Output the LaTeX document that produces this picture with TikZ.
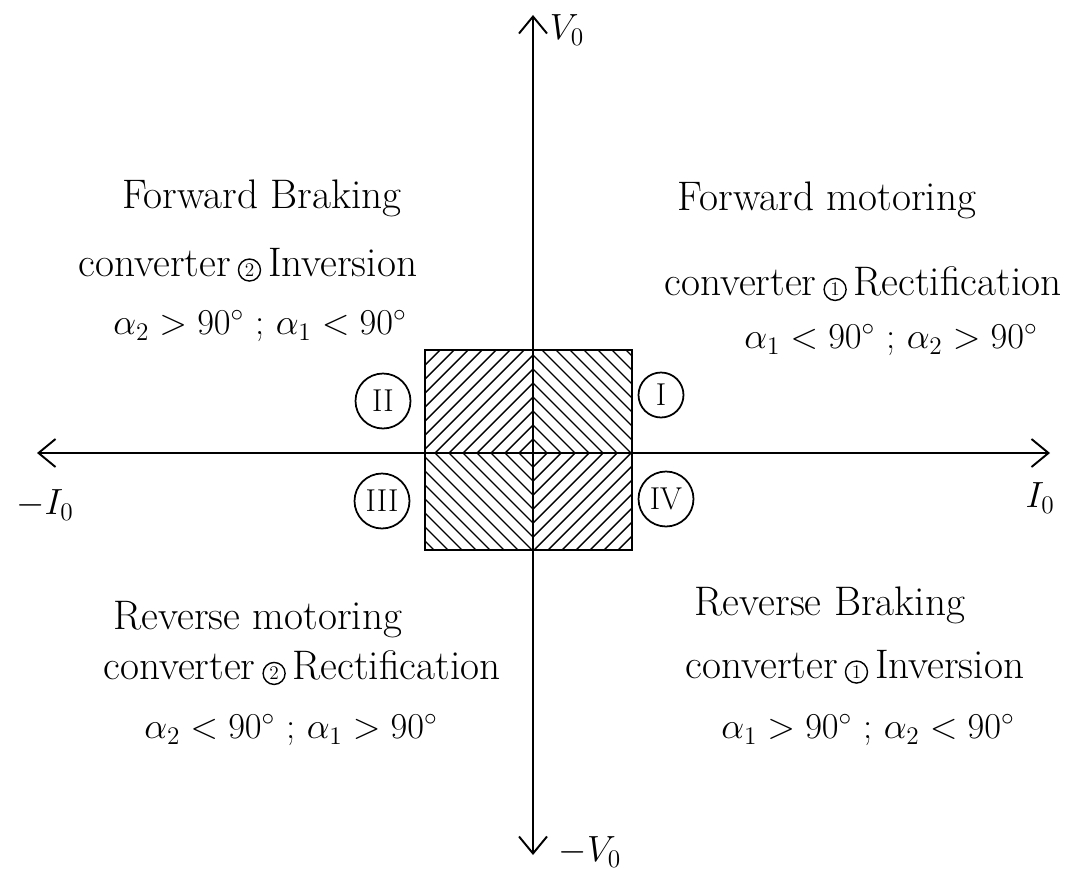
\documentclass[tikz,border=0pt]{standalone}
\usepackage{fontspec}
\usetikzlibrary{arrows.meta,calc}
\tikzset{
  axis/.style={line width=1.1pt, {Straight Barb[length=3.4mm,width=5.6mm]}-{Straight Barb[length=3.4mm,width=5.6mm]}},
  hatch/.style={line width=0.8pt},
  quad/.style={draw, circle, line width=1pt, inner sep=0pt, font=\fontsize{18}{20}\selectfont},
  note/.style={font=\fontsize{23.5}{26}\selectfont, inner sep=0pt},
  angles/.style={font=\fontsize{21}{24}\selectfont, inner sep=0pt},
  axlabel/.style={font=\fontsize{22}{24}\selectfont, inner sep=0pt},
}
\newcommand{\conv}[1]{\,\tikz[baseline=(cn.base)]\node[draw, circle, line width=0.8pt, inner sep=1pt, minimum size=4.4mm, font=\fontsize{11}{12}\selectfont] (cn) {#1};\,}

\begin{document}
\begin{tikzpicture}[x=0.02cm, y=-0.02cm]
  \useasboundingbox (0,0) rectangle (1071,875);
  % axes
  \coordinate (xl) at (37,453);
  \coordinate (xr) at (1050,453);
  \coordinate (yt) at (533,15);
  \coordinate (yb) at (533,855);
  \coordinate (o) at (533,453);
  % shaded square, hatched as nested diamonds
  \begin{scope}
    \clip (425,350) rectangle (632,550);
    \foreach \r in {14,28,...,210}
      \draw[hatch] ($(o)+(\r,0)$) -- ($(o)+(0,\r)$) -- ($(o)+(-\r,0)$) -- ($(o)+(0,-\r)$) -- cycle;
  \end{scope}
  \draw[line width=1.1pt] (425,350) rectangle (632,550);
  \draw[axis] (xl) -- (xr);
  \draw[axis] (yb) -- (yt);
  \node[axlabel] (vp) at (567,30) {$V_0$};
  \node[axlabel] (vn) at (590,852) {$-V_0$};
  \node[axlabel] (ip) at (1040,498) {$I_0$};
  \node[axlabel] (in) at (45,505) {$-I_0$};
  % quadrant numbers
  \node[quad, minimum size=11mm] (q2) at (383,401) {II};
  \node[quad, minimum size=9mm] (q1) at (661,395) {I};
  \node[quad, minimum size=11mm] (q3) at (382,501) {III};
  \node[quad, minimum size=11mm] (q4) at (666,499) {IV};
  % quadrant II
  \node[note] (fb) at (262,198) {Forward Braking};
  \node[note] (fbc) at (248,265) {converter\conv{2}Inversion};
  \node[angles] (fba) at (260,326) {$\alpha_2>90^\circ$ ; $\alpha_1<90^\circ$};
  % quadrant I
  \node[note] (fm) at (827,200) {Forward motoring};
  \node[note] (fmc) at (863,284) {converter\conv{1}Rectification};
  \node[angles] (fma) at (891,340) {$\alpha_1<90^\circ$ ; $\alpha_2>90^\circ$};
  % quadrant III
  \node[note] (rm) at (258,620) {Reverse motoring};
  \node[note] (rmc) at (302,668) {converter\conv{2}Rectification};
  \node[angles] (rma) at (291,730) {$\alpha_2<90^\circ$ ; $\alpha_1>90^\circ$};
  % quadrant IV
  \node[note] (rb) at (830,605) {Reverse Braking};
  \node[note] (rbc) at (855,667) {converter\conv{1}Inversion};
  \node[angles] (rba) at (868,730) {$\alpha_1>90^\circ$ ; $\alpha_2<90^\circ$};
\end{tikzpicture}
\end{document}
